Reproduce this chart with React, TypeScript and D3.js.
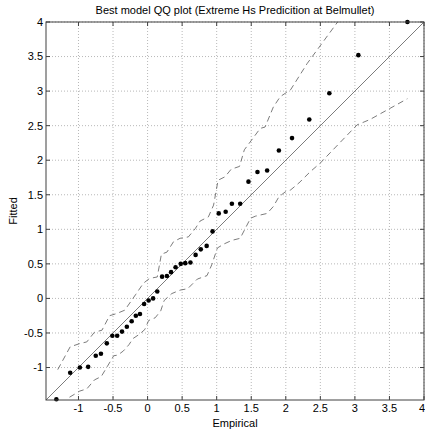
import React from "react";
import * as d3 from "d3";

const empirical = [-1.32, -1.12, -0.98, -0.86, -0.75, -0.675, -0.59, -0.51, -0.44, -0.37, -0.30, -0.23, -0.17, -0.11, -0.05, 0.015, 0.08, 0.14, 0.21, 0.28, 0.34, 0.405, 0.48, 0.545, 0.62, 0.695, 0.77, 0.855, 0.94, 1.03, 1.13, 1.22, 1.34, 1.46, 1.59, 1.73, 1.90, 2.09, 2.34, 2.63, 3.05, 3.76];
const fitted = [-1.46, -1.075, -1.0, -0.99, -0.83, -0.80, -0.65, -0.54, -0.54, -0.48, -0.41, -0.33, -0.25, -0.225, -0.08, -0.03, 0.0, 0.10, 0.315, 0.325, 0.38, 0.45, 0.50, 0.51, 0.52, 0.63, 0.71, 0.76, 0.97, 1.23, 1.255, 1.37, 1.37, 1.69, 1.83, 1.85, 2.14, 2.32, 2.59, 2.97, 3.52, 4.0];

const upperX = [-1.30, -1.12, -0.97, -0.88, -0.77, -0.66, -0.55, -0.45, -0.33, -0.17, -0.06, 0.03, 0.14, 0.20, 0.28, 0.375, 0.47, 0.59, 0.69, 0.76, 0.88, 0.955, 1.02, 1.12, 1.21, 1.33, 1.40, 1.63, 1.70, 1.82, 1.92, 2.07, 2.31, 2.75];
const upperY = [-1.03, -0.70, -0.65, -0.63, -0.49, -0.46, -0.25, -0.22, -0.17, 0.06, 0.22, 0.29, 0.31, 0.64, 0.67, 0.82, 0.87, 0.89, 1.01, 1.12, 1.18, 1.35, 1.71, 1.76, 1.87, 1.91, 2.15, 2.46, 2.48, 2.77, 2.92, 3.02, 3.40, 4.0];

const lowerX = [-1.13, -0.98, -0.88, -0.77, -0.67, -0.58, -0.49, -0.43, -0.35, -0.27, -0.21, -0.12, -0.04, 0.015, 0.11, 0.19, 0.24, 0.35, 0.47, 0.58, 0.72, 0.86, 0.93, 1.01, 1.11, 1.22, 1.34, 1.49, 1.56, 1.73, 1.82, 1.90, 1.99, 2.07, 2.19, 2.35, 2.50, 3.03, 3.22, 3.76];
const lowerY = [-1.43, -1.34, -1.31, -1.18, -1.13, -0.98, -0.83, -0.82, -0.76, -0.67, -0.58, -0.52, -0.45, -0.32, -0.28, -0.18, -0.03, 0.07, 0.12, 0.14, 0.28, 0.33, 0.49, 0.73, 0.79, 0.84, 0.87, 1.16, 1.19, 1.23, 1.33, 1.47, 1.54, 1.57, 1.67, 1.83, 1.96, 2.51, 2.59, 2.89];

const xTicks = [-1, -0.5, 0, 0.5, 1, 1.5, 2, 2.5, 3, 3.5, 4];
const yTicks = [-1, -0.5, 0, 0.5, 1, 1.5, 2, 2.5, 3, 3.5, 4];
const domain: [number, number] = [-1.47, 4];

const title = "Best model QQ plot (Extreme Hs Predicition at Belmullet)";
const xLabel = "Empirical";
const yLabel = "Fitted";

export default function App() {
  const W = 425, H = 433;
  const left = 46, right = 424, top = 22, bottom = 400;
  const x = d3.scaleLinear().domain(domain).range([left, right]);
  const y = d3.scaleLinear().domain(domain).range([bottom, top]);
  const font = "'Liberation Sans', Arial, Helvetica, sans-serif";

  const line = d3.line<[number, number]>().x((d) => x(d[0])).y((d) => y(d[1]));
  const upperPts = upperX.map((v, i) => [v, upperY[i]] as [number, number]);
  const lowerPts = lowerX.map((v, i) => [v, lowerY[i]] as [number, number]);
  const diag = line([[domain[0], domain[0]], [domain[1], domain[1]]]);

  const lineColor = "#5a5a5a";
  const fmt = (v: number) => String(v);

  return (
    <svg width={W} height={H} style={{ position: "absolute", left: 0, top: 0, background: "#fff" }}>
      <defs>
        <clipPath id="plotClip">
          <rect x={left} y={top} width={right - left} height={bottom - top} />
        </clipPath>
      </defs>
      <rect x={0} y={0} width={W} height={H} fill="#fff" />
      {xTicks.map((t) => (
        <line key={"gx" + t} x1={x(t)} x2={x(t)} y1={top} y2={bottom} stroke="#b8b8b8" strokeWidth={1} strokeDasharray="1,2" />
      ))}
      {yTicks.map((t) => (
        <line key={"gy" + t} x1={left} x2={right} y1={y(t)} y2={y(t)} stroke="#b8b8b8" strokeWidth={1} strokeDasharray="1,2" />
      ))}
      <g clipPath="url(#plotClip)">
        <path d={diag || ""} fill="none" stroke={lineColor} strokeWidth={0.8} />
        <path d={line(upperPts) || ""} fill="none" stroke={lineColor} strokeWidth={0.8} strokeDasharray="6,4" />
        <path d={line(lowerPts) || ""} fill="none" stroke={lineColor} strokeWidth={0.8} strokeDasharray="6,4" />
      </g>
      {empirical.map((v, i) => (
        <circle key={"p" + i} cx={x(v)} cy={y(fitted[i])} r={2.3} fill="#000" />
      ))}
      <rect x={left} y={top} width={right - left} height={bottom - top} fill="none" stroke="#404040" strokeWidth={1} />
      {xTicks.map((t, i) => {
        const last = i === xTicks.length - 1;
        return (
          <g key={"tx" + t}>
            <line x1={x(t)} x2={x(t)} y1={bottom} y2={bottom - 4} stroke="#404040" />
            <line x1={x(t)} x2={x(t)} y1={top} y2={top + 4} stroke="#404040" />
            <text x={last ? 425 : x(t)} y={412} textAnchor={last ? "end" : "middle"} fontSize={11} fontFamily={font} fill="#000">{fmt(t)}</text>
          </g>
        );
      })}
      {yTicks.map((t) => (
        <g key={"ty" + t}>
          <line x1={left} x2={left + 4} y1={y(t)} y2={y(t)} stroke="#404040" />
          <line x1={right} x2={right - 4} y1={y(t)} y2={y(t)} stroke="#404040" />
          <text x={43} y={y(t)} dy="0.35em" textAnchor="end" fontSize={11} fontFamily={font} fill="#000">{fmt(t)}</text>
        </g>
      ))}
      <text x={(left + right) / 2} y={14} textAnchor="middle" fontSize={11} fontFamily={font} fill="#000">{title}</text>
      <text x={(left + right) / 2} y={427} textAnchor="middle" fontSize={11} fontFamily={font} fill="#000">{xLabel}</text>
      <text transform={`translate(17,${(top + bottom) / 2}) rotate(-90)`} textAnchor="middle" fontSize={11} fontFamily={font} fill="#000">{yLabel}</text>
    </svg>
  );
}
